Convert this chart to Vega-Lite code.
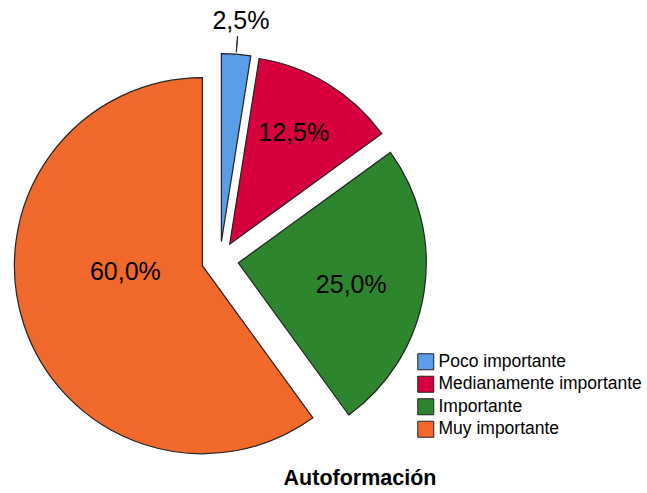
{
  "$schema": "https://vega.github.io/schema/vega-lite/v6.json",
  "width": 400,
  "height": 400,
  "autosize": "none",
  "padding": {"left": 20, "top": 60, "right": 227, "bottom": 33},
  "background": "white",
  "config": {"view": {"stroke": null}, "font": "Liberation Sans"},
  "data": {"values": [
    {"cat": "Poco importante", "pct": 2.5, "ord": 1, "label": "2,5%"},
    {"cat": "Medianamente importante", "pct": 12.5, "ord": 2, "label": "12,5%"},
    {"cat": "Importante", "pct": 25, "ord": 3, "label": "25,0%"},
    {"cat": "Muy importante", "pct": 60, "ord": 4, "label": "60,0%"}
  ]},
  "transform": [{"stack": "pct", "groupby": [], "sort": [{"field": "ord"}], "as": ["start", "end"]}],
  "title": {"text": "Autoformación", "orient": "bottom", "anchor": "middle", "frame": "group", "dx": 140, "offset": 8, "fontSize": 21.5, "fontWeight": "bold", "font": "Liberation Sans", "color": "black"},
  "layer": [
    {
      "transform": [{"filter": "datum.cat === 'Poco importante'"}],
      "mark": {"type": "arc", "outerRadius": 188, "xOffset": 1.4, "yOffset": -18.4, "stroke": "#222222", "strokeWidth": 1.2},
      "encoding": {
        "theta": {"field": "start", "type": "quantitative", "scale": {"domain": [0, 100]}},
        "theta2": {"field": "end"},
        "color": {"field": "cat", "type": "nominal",
          "scale": {"domain": ["Poco importante", "Medianamente importante", "Importante", "Muy importante"], "range": ["#5a9ee8", "#d5003c", "#2d862d", "#f2692c"]},
          "legend": {"title": null, "orient": "none", "legendX": 397, "legendY": 293, "symbolType": "square", "symbolSize": 256, "symbolStrokeColor": "#222222", "symbolStrokeWidth": 1, "labelFontSize": 17.5, "labelFont": "Liberation Sans", "labelColor": "black", "labelLimit": 400, "rowPadding": 1.5, "labelOffset": 4}}
      }
    },
    {
      "transform": [{"filter": "datum.cat === 'Medianamente importante'"}],
      "mark": {"type": "arc", "outerRadius": 188, "xOffset": 9.7, "yOffset": -15.8, "stroke": "#222222", "strokeWidth": 1.2},
      "encoding": {
        "theta": {"field": "start", "type": "quantitative", "scale": {"domain": [0, 100]}},
        "theta2": {"field": "end"},
        "color": {"field": "cat", "type": "nominal"}
      }
    },
    {
      "transform": [{"filter": "datum.cat === 'Importante'"}],
      "mark": {"type": "arc", "outerRadius": 188, "xOffset": 18.3, "yOffset": 2.9, "stroke": "#222222", "strokeWidth": 1.2},
      "encoding": {
        "theta": {"field": "start", "type": "quantitative", "scale": {"domain": [0, 100]}},
        "theta2": {"field": "end"},
        "color": {"field": "cat", "type": "nominal"}
      }
    },
    {
      "transform": [{"filter": "datum.cat === 'Muy importante'"}],
      "mark": {"type": "arc", "outerRadius": 188, "xOffset": -17.6, "yOffset": 5.7, "stroke": "#222222", "strokeWidth": 1.2},
      "encoding": {
        "theta": {"field": "start", "type": "quantitative", "scale": {"domain": [0, 100]}},
        "theta2": {"field": "end"},
        "color": {"field": "cat", "type": "nominal"}
      }
    },
    {
      "transform": [{"filter": "datum.cat === 'Poco importante'"}],
      "mark": {"type": "arc", "innerRadius": 190, "outerRadius": 206, "thetaOffset": 0.078, "theta2Offset": -0.078, "xOffset": 1.4, "yOffset": -18.4, "stroke": "#222222", "strokeWidth": 1, "fillOpacity": 0},
      "encoding": {
        "theta": {"field": "start", "type": "quantitative", "scale": {"domain": [0, 100]}},
        "theta2": {"field": "end"}
      }
    },
    {
      "mark": {"type": "text", "radius": 221, "xOffset": 3.6, "yOffset": -18.6, "fontSize": 25, "font": "Liberation Sans", "color": "black"},
      "encoding": {
        "theta": {"field": "pct", "type": "quantitative", "stack": true, "scale": {"domain": [0, 100]}},
        "order": {"field": "ord"},
        "text": {"condition": {"test": "datum.cat === 'Poco importante'", "field": "label", "type": "nominal"}, "value": ""}
      }
    },
    {
      "mark": {"type": "text", "radius": 128.6, "xOffset": 6.5, "yOffset": -17.6, "fontSize": 25, "font": "Liberation Sans", "color": "black"},
      "encoding": {
        "theta": {"field": "pct", "type": "quantitative", "stack": true, "scale": {"domain": [0, 100]}},
        "order": {"field": "ord"},
        "text": {"condition": {"test": "datum.cat === 'Medianamente importante'", "field": "label", "type": "nominal"}, "value": ""}
      }
    },
    {
      "mark": {"type": "text", "radius": 115, "xOffset": 17.7, "yOffset": 7.4, "fontSize": 25, "font": "Liberation Sans", "color": "black"},
      "encoding": {
        "theta": {"field": "pct", "type": "quantitative", "stack": true, "scale": {"domain": [0, 100]}},
        "order": {"field": "ord"},
        "text": {"condition": {"test": "datum.cat === 'Importante'", "field": "label", "type": "nominal"}, "value": ""}
      }
    },
    {
      "mark": {"type": "text", "radius": 77, "xOffset": -21.4, "yOffset": -12.1, "fontSize": 25, "font": "Liberation Sans", "color": "black"},
      "encoding": {
        "theta": {"field": "pct", "type": "quantitative", "stack": true, "scale": {"domain": [0, 100]}},
        "order": {"field": "ord"},
        "text": {"condition": {"test": "datum.cat === 'Muy importante'", "field": "label", "type": "nominal"}, "value": ""}
      }
    }
  ]
}
